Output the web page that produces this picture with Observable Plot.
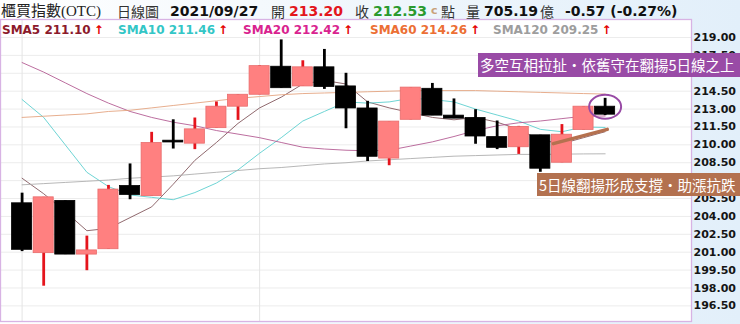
<!DOCTYPE html>
<html><head><meta charset="utf-8">
<script src="https://cdn.jsdelivr.net/npm/d3@7"></script>
<script src="https://cdn.jsdelivr.net/npm/@observablehq/plot@0.6"></script>
<style>
html,body{margin:0;padding:0;}
body{width:740px;height:324px;overflow:hidden;position:relative;
  background:linear-gradient(to right,#ffffff 0%,#f4f9fd 35%,#e2effa 100%);
  font-family:"DejaVu Sans",Verdana,sans-serif;}
#chart{position:absolute;left:0;top:0;}
.t{position:absolute;white-space:nowrap;}
.cjk{font-family:"Noto Sans CJK TC",sans-serif;font-size:14px;color:#333;top:0;line-height:22px;}
.num{font-family:"DejaVu Sans",Verdana,sans-serif;font-weight:bold;font-size:14px;top:0;line-height:22px;}
.sma{font-family:"DejaVu Sans",Verdana,sans-serif;font-weight:bold;font-size:12px;top:22px;line-height:16px;}
.arr{color:#e40000;margin-left:3px;font-family:"DejaVu Sans",sans-serif;}
.note{position:absolute;color:#fff;font-family:"Noto Sans CJK TC",sans-serif;font-size:14.5px;white-space:nowrap;overflow:hidden;padding-left:2px;box-sizing:border-box;}
</style></head><body>
<div id="chart"></div>
<script>
// ---- data ----
const idx = [1,2,3,4,5,6,7,8,9,10,11,12,13,14,15,16,17,18,19,20,21,22,23,24,25,26,27,28];
const open  = [205.10,200.92,205.30,200.80,201.25,206.55,205.70,210.35,210.10,211.40,213.20,214.20,216.55,214.90,216.50,214.90,213.05,208.85,212.10,214.70,212.45,212.25,210.65,209.80,210.80,208.50,211.25,213.20];
const high  = [205.95,205.60,205.30,202.35,206.60,208.40,211.05,212.10,212.25,213.60,214.20,216.65,218.80,217.05,218.00,216.00,213.65,211.95,214.80,215.15,213.85,212.95,212.00,211.55,210.80,211.70,213.20,213.90];
const low   = [201.05,198.15,200.80,199.45,201.25,205.40,205.70,209.65,209.60,211.40,212.05,214.20,214.75,214.90,214.65,211.35,208.60,208.25,212.10,212.45,212.20,210.05,209.60,209.20,207.70,208.50,211.25,212.45];
const close = [201.20,205.60,200.80,201.15,206.25,205.80,210.15,210.20,211.30,213.20,214.20,216.60,214.75,216.50,214.85,213.05,209.00,211.95,214.80,212.45,212.20,210.70,209.75,211.50,208.00,210.85,213.20,212.53];

const sma5   = [207.2,205.9,204.4,202.8,203.0,203.9,204.8,206.7,208.7,210.2,211.8,213.1,214.0,215.1,215.4,215.1,213.6,213.1,212.7,212.3,212.1,212.3,211.9,211.3,210.4,210.1,210.6,211.1];
const sma10  = [213.8,212.3,210.0,207.7,206.5,205.8,205.6,205.4,206.0,206.8,207.9,209.3,210.6,212.0,212.8,213.6,213.5,213.6,213.9,213.8,213.6,213.0,212.5,212.0,211.3,211.1,211.5,211.46];
const sma20  = [216.9,216.1,215.2,214.3,213.5,212.8,212.3,211.9,211.6,211.2,210.9,210.6,210.2,209.8,209.65,209.55,209.5,209.55,209.9,210.25,210.7,211.2,211.6,211.85,212.0,212.2,212.4,212.42];
const sma60  = [212.3,212.4,212.5,212.6,212.8,212.9,213.1,213.3,213.5,213.7,213.9,214.05,214.2,214.3,214.35,214.4,214.45,214.5,214.55,214.55,214.55,214.55,214.5,214.45,214.4,214.35,214.3,214.26];
const sma120 = [206.65,206.75,206.85,206.95,207.05,207.2,207.3,207.4,207.55,207.7,207.85,208.0,208.1,208.25,208.4,208.5,208.65,208.75,208.85,208.95,209.05,209.1,209.15,209.2,209.2,209.22,209.24,209.25];

const smaNames  = ["SMA5","SMA10","SMA20","SMA60","SMA120"];
const smaLast   = ["211.10","211.46","212.42","214.26","209.25"];
const smaLegend = ["#8c1a2b","#33c6c6","#d9238f","#ec6f34","#9d9d9d"];
const smaLine   = ["#7d4f55","#55cccc","#b0558e","#e3a07a","#aaaaaa"];
const smaSeries = [sma5, sma10, sma20, sma60, sma120];

const yTicks = [196.5,198,199.5,201,202.5,204,205.5,207,208.5,210,211.5,213,214.5,216,217.5,219];
const monthStarts = [1, 12];
const support = [{i:25.6, v:210.1},{i:28.1, v:211.3}];
const focus = {i:28, v:213.15};

const header = {
  name:"櫃買指數(OTC)", kind:"日線圖", date:"2021/09/27",
  openLbl:"開", openVal:"213.20", closeLbl:"收", closeVal:"212.53",
  unit:"點", volLbl:"量", vol:"705.19", volUnit:"億", change:"-0.57 (-0.27%)"
};
const notes = ["多空互相拉扯・依舊守在翻揚5日線之上", "5日線翻揚形成支撐・助漲抗跌"];

// ---- build ----
const candles = idx.map((i,k)=>({i,o:open[k],h:high[k],l:low[k],c:close[k],up:close[k]>=open[k]}));
const maData = [];
smaSeries.forEach((s,j)=>s.forEach((v,k)=>maData.push({name:smaNames[j], col:smaLine[j], i:idx[k], v})));

const chart = Plot.plot({
  width:740, height:324, marginTop:19, marginBottom:3, marginLeft:0, marginRight:49,
  style:{background:"transparent", fontFamily:"DejaVu Sans, Verdana, sans-serif", fontSize:"11px", fontWeight:"bold", color:"#151515", overflow:"visible"},
  x:{domain:[0,32], axis:null},
  y:{domain:[195.19,220.51], axis:"right", ticks:yTicks, tickSize:0, tickPadding:2, tickFormat:d=>d.toFixed(2), label:null},
  marks:[
    Plot.frame({fill:"white", stroke:"none"}),
    Plot.ruleY(yTicks, {stroke:"#ececec"}),
    Plot.ruleX(monthStarts, {stroke:"#e4e4e4"}),
    Plot.line(maData, {x:"i", y:"v", z:"name", stroke:"col", strokeWidth:1, strokeOpacity:0.85}),
    Plot.ruleX(candles, {x:"i", y1:"l", y2:"h", stroke:d=>d.up?"#e5141c":"#000000", strokeWidth:2.8}),
    Plot.rect(candles, {x1:d=>d.i-0.465, x2:d=>d.i+0.465, y1:"o", y2:"c", fill:d=>d.up?"#ff8080":"#000000", stroke:d=>d.up?"#e86c6c":"#000000", strokeWidth:0.8}),
    Plot.line(support, {x:"i", y:"v", stroke:"#b5714f", strokeWidth:3.5, strokeLinecap:"round"}),
    Plot.frame({stroke:"#d8b3e4", strokeWidth:1.3})
  ]
});
document.getElementById("chart").appendChild(chart);
const sx = chart.scale("x"), sy = chart.scale("y");
d3.select(chart).append("ellipse")
  .attr("cx", sx.apply(focus.i)+0.5).attr("cy", sy.apply(focus.v))
  .attr("rx", 16).attr("ry", 12)
  .attr("fill","none").attr("stroke","#984aa5").attr("stroke-width",2);

// header row 1
function span(cls, left, text, color, extra){
  const s = document.createElement("span");
  s.className = "t " + cls; s.style.left = left + "px"; s.textContent = text;
  if (color) s.style.color = color;
  if (extra) Object.assign(s.style, extra);
  document.body.appendChild(s); return s;
}
span("cjk", 1, header.name, "#222", {fontFamily:"'Liberation Serif','Noto Sans CJK TC',serif", fontSize:"15px"});
span("cjk", 117, header.kind);
span("num", 170, header.date, "#111");
span("cjk", 271, header.openLbl);
span("num", 289, header.openVal, "#e3161c");
span("cjk", 355, header.closeLbl);
span("num", 373, header.closeVal, "#2a9a2e");
span("num", 431, "c", "#c9a27a", {fontSize:"11px"});
span("cjk", 441, header.unit);
span("cjk", 466, header.volLbl);
span("num", 484, header.vol, "#111");
span("cjk", 540, header.volUnit);
span("num", 565, header.change, "#111");

// header row 2 (SMA legend)
const smaLeft = [2, 118, 243, 370, 493];
smaNames.forEach((n,j)=>{
  const s = span("sma", smaLeft[j], n + " " + smaLast[j], smaLegend[j]);
  const a = document.createElement("span"); a.className="arr"; a.textContent="↑"; s.appendChild(a);
});

// annotation notes
function note(text, left, top, h, bg){
  const d = document.createElement("div");
  d.className = "note"; d.textContent = text;
  Object.assign(d.style, {left:left+"px", top:top+"px", width:(740-left)+"px", height:h+"px", lineHeight:h+"px", background:bg});
  document.body.appendChild(d);
}
note(notes[0], 478, 53, 24, "#994ba6");
note(notes[1], 537, 173, 23, "#b3714f");
</script>
</body></html>
